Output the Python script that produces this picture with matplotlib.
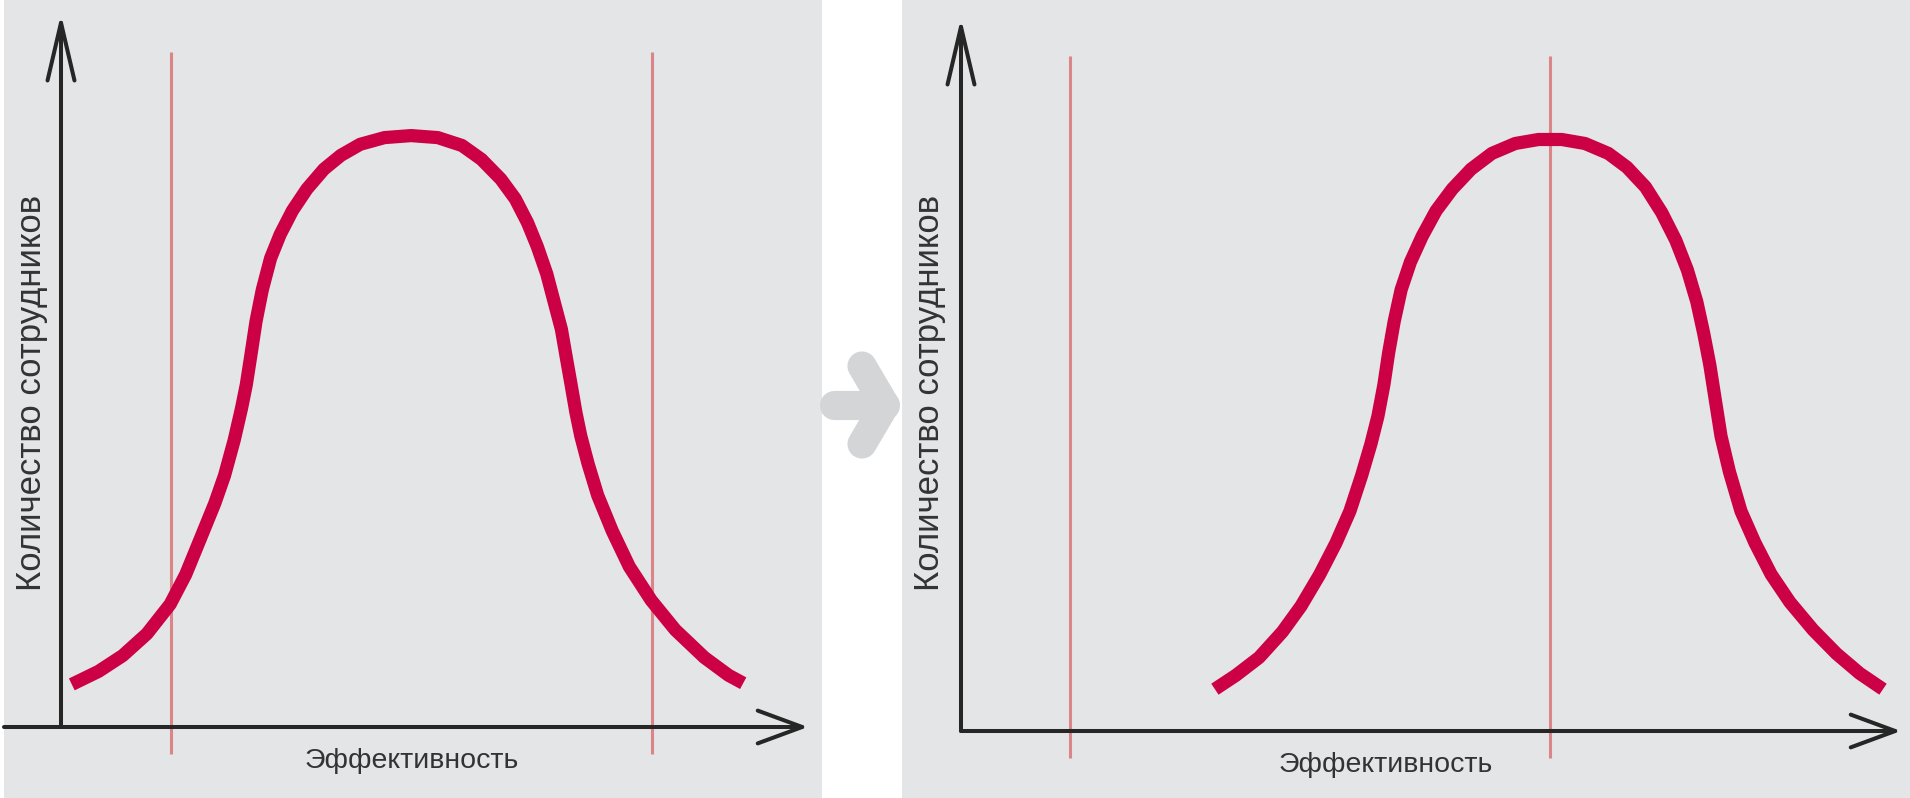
import matplotlib.pyplot as plt
from matplotlib.patches import ArrowStyle


# кривые распределения сотрудников по эффективности
# (единица = 10 px от начала осей соответствующей панели)
left_x = [1.08, 3.75, 6.17, 8.59, 10.92, 12.47, 13.93, 15.38, 16.35, 17.32, 18.05, 18.53, 19.02,
          19.50, 20.13, 20.96, 21.92, 23.14, 24.59, 26.29, 27.98, 29.92, 32.35, 35.01, 37.68,
          40.10, 42.04, 43.98, 45.43, 46.65, 47.62, 48.58, 49.31, 50.04, 50.52, 51.01, 51.49,
          51.98, 52.71, 53.67, 55.13, 56.83, 59.01, 61.43, 64.34, 66.76, 68.22]
left_y = [4.26, 5.56, 7.14, 9.32, 12.28, 15.25, 18.81, 22.37, 25.14, 28.69, 31.86, 34.23, 37.39,
          40.56, 43.72, 46.88, 49.26, 51.63, 53.80, 55.78, 57.16, 58.27, 58.94, 59.14, 58.94,
          58.15, 56.77, 54.79, 52.81, 50.44, 48.07, 45.30, 42.53, 39.77, 37.00, 34.23, 31.46,
          29.09, 26.32, 23.16, 19.60, 16.04, 12.68, 9.71, 6.95, 5.17, 4.38]

right_x = [25.39, 27.49, 29.81, 32.14, 34.00, 35.87, 37.50, 38.89, 40.06, 40.99, 41.69, 42.29,
           42.76, 43.32, 44.01, 44.94, 46.11, 47.51, 49.13, 51.00, 53.09, 55.42, 57.75, 60.08,
           62.40, 64.73, 66.59, 68.45, 70.08, 71.48, 72.64, 73.58, 74.27, 74.88, 75.44, 76.00,
           76.84, 78.00, 79.40, 81.02, 82.89, 85.21, 87.54, 89.87, 92.20]
right_y = [4.18, 5.57, 7.35, 9.92, 12.49, 15.65, 18.81, 21.98, 25.54, 28.70, 31.47, 34.63, 37.79,
           40.96, 44.12, 46.89, 49.46, 52.03, 54.20, 56.18, 57.76, 58.75, 59.15, 59.15, 58.75,
           57.76, 56.38, 54.40, 51.83, 49.06, 46.10, 42.93, 39.77, 36.61, 33.05, 29.49, 25.93,
           21.98, 18.81, 15.65, 12.88, 10.11, 7.74, 5.76, 4.18]

# границы (тонкие красные линии)
left_bounds = [11.0, 59.1]
right_bounds = [10.9, 58.9]

x_label = 'Эффективность'
y_label = 'Количество сотрудников'

BG = '#e4e5e6'
CRIMSON = '#cc0045'
THIN_RED = '#db8589'
AXIS = '#262626'
TEXT = '#333333'
ARROW_GRAY = '#d4d5d6'


def draw_panel(ax, cx, cy, bounds, xlim, ylim, x_from, x_to, y_to, xl_pos, yl_pos):
    ax.set_facecolor(BG)
    for s in ax.spines.values():
        s.set_visible(False)
    ax.set_xticks([])
    ax.set_yticks([])
    ax.set_xlim(*xlim)
    ax.set_ylim(*ylim)

    ax.vlines(bounds, -2.7, 67.5, color=THIN_RED, lw=2.2, zorder=2)
    ax.plot(cx, cy, color=CRIMSON, lw=9.5, solid_capstyle='butt', solid_joinstyle='round', zorder=3)

    # оси со стрелками
    ax.annotate('', xy=(x_to, 0), xytext=(x_from, 0),
                arrowprops=dict(arrowstyle=ArrowStyle('->', head_length=32, head_width=11.8),
                                lw=2.9, color=AXIS, shrinkA=0, shrinkB=0, mutation_scale=1))
    ax.annotate('', xy=(0, y_to), xytext=(0, 0),
                arrowprops=dict(arrowstyle=ArrowStyle('->', head_length=41.5, head_width=9.7),
                                lw=2.9, color=AXIS, shrinkA=0, shrinkB=0, mutation_scale=1))

    ax.text(xl_pos[0], xl_pos[1], x_label, ha='center', va='center', fontsize=20.5, color=TEXT,
            family=['Liberation Sans Narrow', 'Liberation Sans', 'DejaVu Sans'])
    ax.text(yl_pos[0], yl_pos[1], y_label, ha='center', va='center', rotation=90, fontsize=25,
            color=TEXT, family=['Liberation Sans', 'DejaVu Sans'])


fig = plt.figure(figsize=(19.1, 7.98), dpi=100)
fig.patch.set_facecolor('white')

ax1 = fig.add_axes([4 / 1910, 0, 818 / 1910, 1])
draw_panel(ax1, left_x, left_y, left_bounds, (-5.7, 76.1), (-7.1, 72.7),
           -5.7, 74.7, 71.3, (35.1, -3.4), (-2.9, 33.4))

ax2 = fig.add_axes([902 / 1910, 0, 1008 / 1910, 1])
draw_panel(ax2, right_x, right_y, right_bounds, (-5.9, 94.9), (-6.7, 73.1),
           0, 94.0, 71.3, (42.5, -3.4), (-3.2, 33.8))

# серая стрелка между панелями
ov = fig.add_axes([0, 0, 1, 1])
ov.set_xlim(0, 1910)
ov.set_ylim(798, 0)
ov.axis('off')
ov.plot([834, 885], [405, 405], color=ARROW_GRAY, lw=21, solid_capstyle='round')
ov.plot([862, 885, 862], [366, 405, 444], color=ARROW_GRAY, lw=21,
        solid_capstyle='round', solid_joinstyle='round')

fig.savefig('out.png', dpi=100)
